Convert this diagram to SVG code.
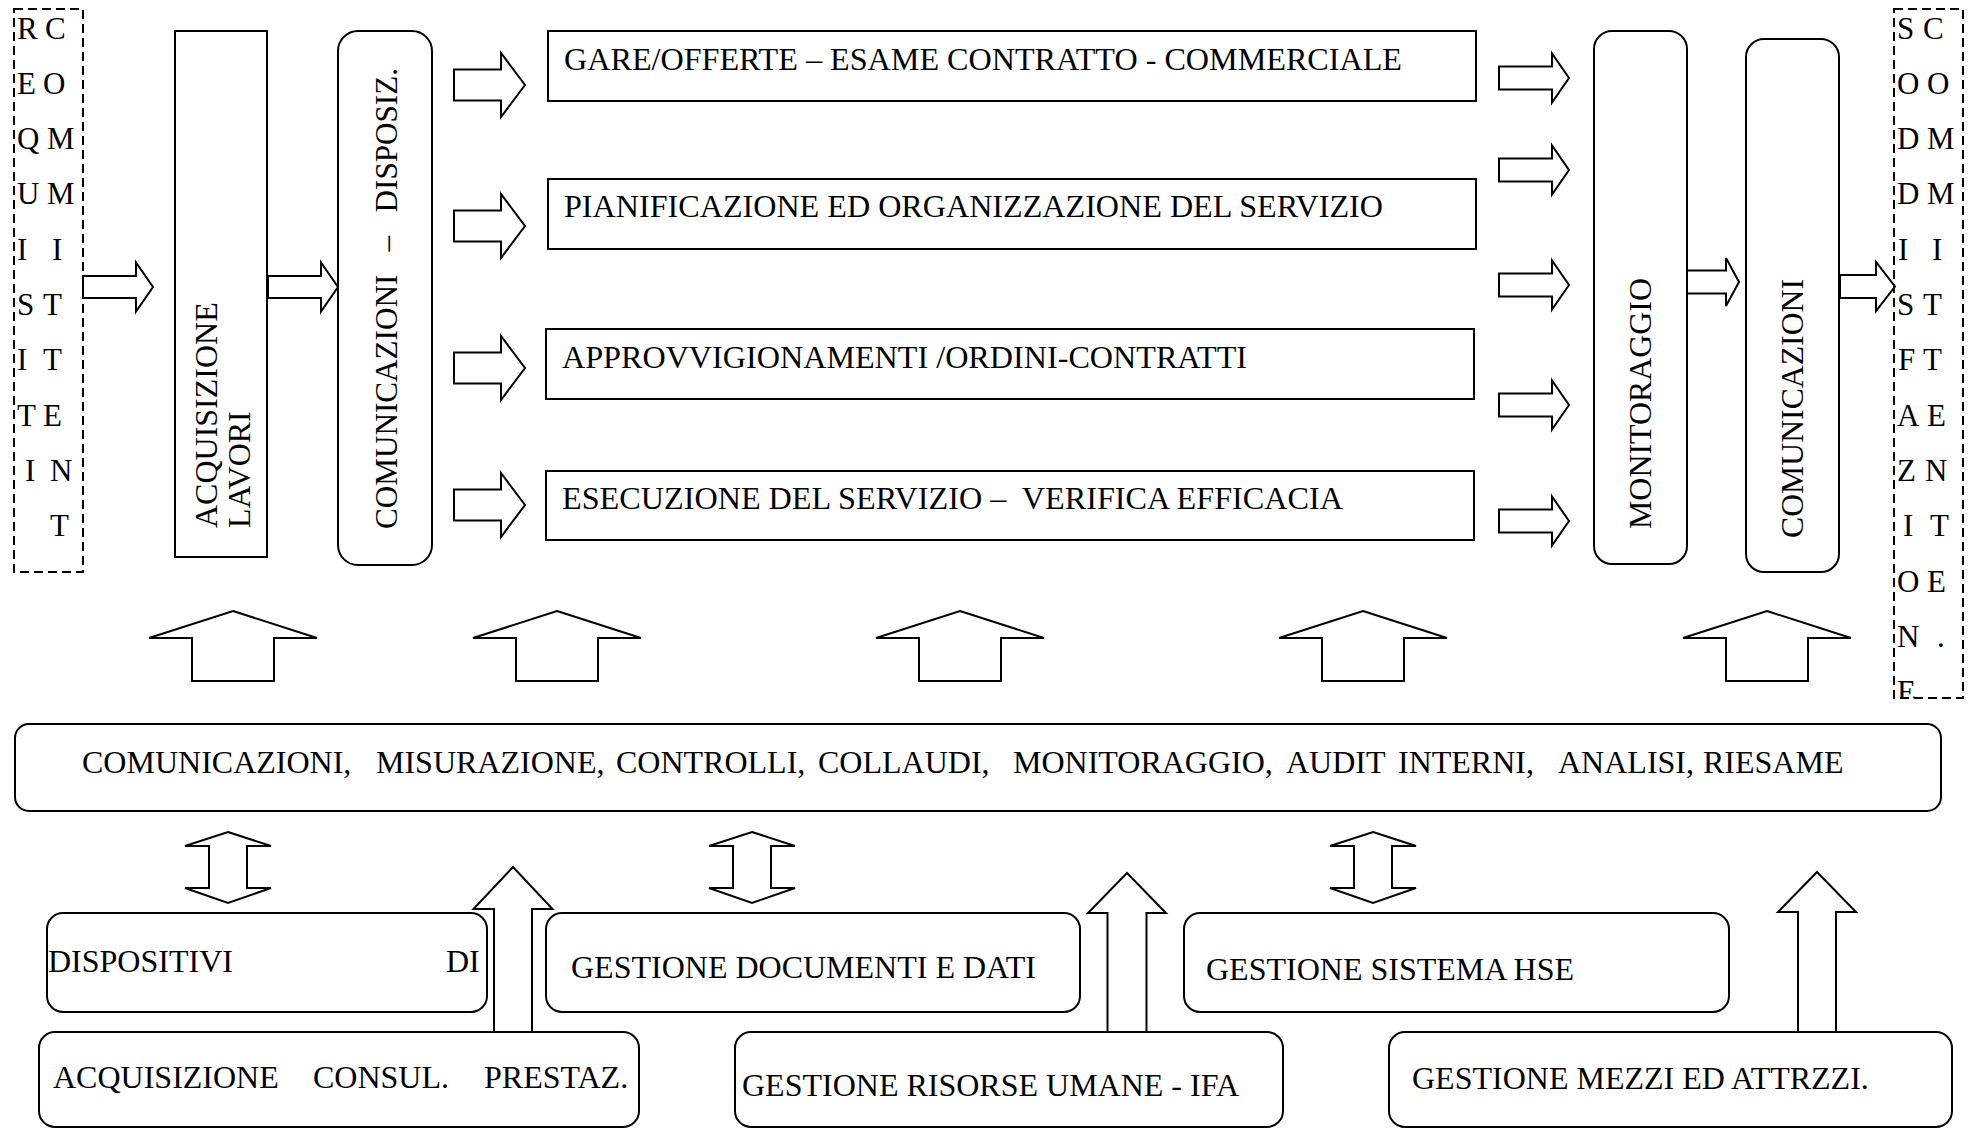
<svg xmlns="http://www.w3.org/2000/svg" width="1972" height="1129" viewBox="0 0 1972 1129">
<style>
.box{fill:none;stroke:#000;stroke-width:2}
.dash{fill:none;stroke:#000;stroke-width:2;stroke-dasharray:9 5}
.arr{fill:#fff;stroke:#000;stroke-width:2;stroke-linejoin:miter}
text{font-family:"Liberation Serif","Times New Roman",serif;font-size:32px;fill:#000}
.let{font-size:31px}
</style>
<defs>
<clipPath id="clipR"><rect x="1890" y="0" width="82" height="698"/></clipPath>
</defs>
<rect width="1972" height="1129" fill="#fff"/>

<g id="connectors">
<polygon class="arr" points="83,276 136,276 136,262.5 153,287 136,311.5 136,298 83,298"/>
<polygon class="arr" points="268,276 321,276 321,262.5 338,287 321,311.5 321,298 268,298"/>
<polygon class="arr" points="454,69.5 501,69.5 501,53 525,85 501,117 501,100.5 454,100.5"/>
<polygon class="arr" points="454,210.5 501,210.5 501,194 525,226 501,258 501,241.5 454,241.5"/>
<polygon class="arr" points="454,352.5 501,352.5 501,336 525,368 501,400 501,383.5 454,383.5"/>
<polygon class="arr" points="454,489.5 501,489.5 501,473 525,505 501,537 501,520.5 454,520.5"/>
<polygon class="arr" points="1499,66.5 1552,66.5 1552,53.5 1569,78 1552,102.5 1552,89.5 1499,89.5"/>
<polygon class="arr" points="1499,158.5 1552,158.5 1552,145.5 1569,170 1552,194.5 1552,181.5 1499,181.5"/>
<polygon class="arr" points="1499,273.5 1552,273.5 1552,260.5 1569,285 1552,309.5 1552,296.5 1499,296.5"/>
<polygon class="arr" points="1499,393.5 1552,393.5 1552,380.5 1569,405 1552,429.5 1552,416.5 1499,416.5"/>
<polygon class="arr" points="1499,509.5 1552,509.5 1552,496.5 1569,521 1552,545.5 1552,532.5 1499,532.5"/>
<polygon class="arr" points="1687,270.5 1726,270.5 1726,258 1739,282 1726,306 1726,293.5 1687,293.5"/>
<polygon class="arr" points="1840,275 1876,275 1876,262 1895,286.5 1876,311 1876,298 1840,298"/>
<polygon class="arr" points="233,611 317,638 274,638 274,681 192,681 192,638 149,638"/>
<polygon class="arr" points="557,611 641,638 598,638 598,681 516,681 516,638 473,638"/>
<polygon class="arr" points="960,611 1044,638 1001,638 1001,681 919,681 919,638 876,638"/>
<polygon class="arr" points="1363,611 1447,638 1404,638 1404,681 1322,681 1322,638 1279,638"/>
<polygon class="arr" points="1767,611 1851,638 1808,638 1808,681 1726,681 1726,638 1683,638"/>
<polygon class="arr" points="228,832 271,846 247,846 247,888 271,888 228,903 185,888 209,888 209,846 185,846"/>
<polygon class="arr" points="752,832 795,846 771,846 771,888 795,888 752,903 709,888 733,888 733,846 709,846"/>
<polygon class="arr" points="1373,832 1416,846 1392,846 1392,888 1416,888 1373,903 1330,888 1354,888 1354,846 1330,846"/>
<polygon class="arr" points="513,867 552.5,909 532,909 532,1032 494,1032 494,909 473.5,909"/>
<polygon class="arr" points="1127,873 1166,913 1146.5,913 1146.5,1032 1107.5,1032 1107.5,913 1088,913"/>
<polygon class="arr" points="1817,872 1856,912 1836,912 1836,1032 1798,1032 1798,912 1778,912"/>
</g>

<g id="requisiti">
<rect class="dash" x="14" y="9" width="69" height="563"/>
<text class="let"><tspan x="17" y="38.5">R</tspan><tspan x="17" y="93.8">E</tspan><tspan x="17" y="149.1">Q</tspan><tspan x="17" y="204.4">U</tspan><tspan x="17" y="259.7">I</tspan><tspan x="17" y="315">S</tspan><tspan x="17" y="370.3">I</tspan><tspan x="17" y="425.6">T</tspan><tspan x="25" y="480.9">I</tspan></text>
<text class="let"><tspan x="45" y="38.5">C</tspan><tspan x="43" y="93.8">O</tspan><tspan x="47" y="149.1">M</tspan><tspan x="47" y="204.4">M</tspan><tspan x="52" y="259.7">I</tspan><tspan x="43" y="315">T</tspan><tspan x="43" y="370.3">T</tspan><tspan x="43" y="425.6">E</tspan><tspan x="50" y="480.9">N</tspan><tspan x="50" y="536.2">T</tspan></text>
</g>

<g id="acquisizione-lavori">
<rect class="box" x="175" y="31" width="92" height="526"/>
<text transform="translate(217,528) rotate(-90)">ACQUISIZIONE</text>
<text transform="translate(250,528) rotate(-90)">LAVORI</text>
</g>

<g id="comunicazioni-disposiz">
<rect class="box" x="338" y="31" width="94" height="534" rx="20"/>
<text transform="translate(397,529) rotate(-90)" xml:space="preserve" textLength="461" lengthAdjust="spacingAndGlyphs">COMUNICAZIONI   –   DISPOSIZ.</text>
</g>

<g id="gare-offerte">
<rect class="box" x="548" y="31" width="928" height="70"/>
<text x="564" y="70" textLength="838" lengthAdjust="spacingAndGlyphs">GARE/OFFERTE – ESAME CONTRATTO - COMMERCIALE</text>
</g>
<g id="pianificazione">
<rect class="box" x="548" y="179" width="928" height="70"/>
<text x="564" y="217" textLength="819" lengthAdjust="spacingAndGlyphs">PIANIFICAZIONE ED ORGANIZZAZIONE DEL SERVIZIO</text>
</g>
<g id="approvvigionamenti">
<rect class="box" x="546" y="329" width="928" height="70"/>
<text x="562" y="368" textLength="685" lengthAdjust="spacingAndGlyphs">APPROVVIGIONAMENTI /ORDINI-CONTRATTI</text>
</g>
<g id="esecuzione">
<rect class="box" x="546" y="471" width="928" height="69"/>
<text x="562" y="509" xml:space="preserve" textLength="781" lengthAdjust="spacingAndGlyphs">ESECUZIONE DEL SERVIZIO –  VERIFICA EFFICACIA</text>
</g>

<g id="monitoraggio">
<rect class="box" x="1594" y="31" width="93" height="533" rx="18"/>
<text transform="translate(1651,529) rotate(-90)" textLength="251" lengthAdjust="spacingAndGlyphs">MONITORAGGIO</text>
</g>

<g id="comunicazioni">
<rect class="box" x="1746" y="39" width="93" height="533" rx="18"/>
<text transform="translate(1803,538) rotate(-90)" textLength="259" lengthAdjust="spacingAndGlyphs">COMUNICAZIONI</text>
</g>

<g id="soddisfazione">
<rect class="dash" x="1894" y="9" width="69" height="689"/>
<g clip-path="url(#clipR)">
<text class="let"><tspan x="1897" y="38.5">S</tspan><tspan x="1897" y="93.8">O</tspan><tspan x="1897" y="149.1">D</tspan><tspan x="1897" y="204.4">D</tspan><tspan x="1898" y="259.7">I</tspan><tspan x="1897" y="315">S</tspan><tspan x="1898" y="370.3">F</tspan><tspan x="1897" y="425.6">A</tspan><tspan x="1897" y="480.9">Z</tspan><tspan x="1903" y="536.2">I</tspan><tspan x="1897" y="591.5">O</tspan><tspan x="1897" y="646.8">N</tspan><tspan x="1897" y="702.1">E</tspan></text>
<text class="let"><tspan x="1923" y="38.5">C</tspan><tspan x="1927" y="93.8">O</tspan><tspan x="1927" y="149.1">M</tspan><tspan x="1927" y="204.4">M</tspan><tspan x="1932" y="259.7">I</tspan><tspan x="1923" y="315">T</tspan><tspan x="1923" y="370.3">T</tspan><tspan x="1927" y="425.6">E</tspan><tspan x="1925" y="480.9">N</tspan><tspan x="1930" y="536.2">T</tspan><tspan x="1927" y="591.5">E</tspan><tspan x="1937" y="646.8">.</tspan></text>
</g>
</g>

<g id="comunicazioni-misurazione">
<rect class="box" x="15" y="724" width="1926" height="87" rx="14"/>
<text y="773"><tspan x="82">COMUNICAZIONI,</tspan><tspan x="376">MISURAZIONE,</tspan><tspan x="616">CONTROLLI,</tspan><tspan x="818">COLLAUDI,</tspan><tspan x="1013">MONITORAGGIO,</tspan><tspan x="1286">AUDIT</tspan><tspan x="1398">INTERNI,</tspan><tspan x="1558">ANALISI,</tspan><tspan x="1703">RIESAME</tspan></text>
</g>

<g id="dispositivi">
<rect class="box" x="47" y="913" width="440" height="99" rx="16"/>
<text y="972"><tspan x="48">DISPOSITIVI</tspan><tspan x="446">DI</tspan></text>
</g>
<g id="gestione-documenti">
<rect class="box" x="546" y="913" width="534" height="99" rx="16"/>
<text x="571" y="978">GESTIONE DOCUMENTI E DATI</text>
</g>
<g id="gestione-hse">
<rect class="box" x="1184" y="913" width="545" height="99" rx="16"/>
<text x="1206" y="980">GESTIONE SISTEMA HSE</text>
</g>
<g id="acquisizione-consul">
<rect class="box" x="39" y="1032" width="600" height="95" rx="16"/>
<text y="1088"><tspan x="53">ACQUISIZIONE</tspan><tspan x="313">CONSUL.</tspan><tspan x="484">PRESTAZ.</tspan></text>
</g>
<g id="gestione-risorse">
<rect class="box" x="735" y="1032" width="548" height="95" rx="16"/>
<text x="742" y="1096">GESTIONE RISORSE UMANE - IFA</text>
</g>
<g id="gestione-mezzi">
<rect class="box" x="1389" y="1032" width="563" height="95" rx="16"/>
<text x="1412" y="1089">GESTIONE MEZZI ED ATTRZZI.</text>
</g>
</svg>
